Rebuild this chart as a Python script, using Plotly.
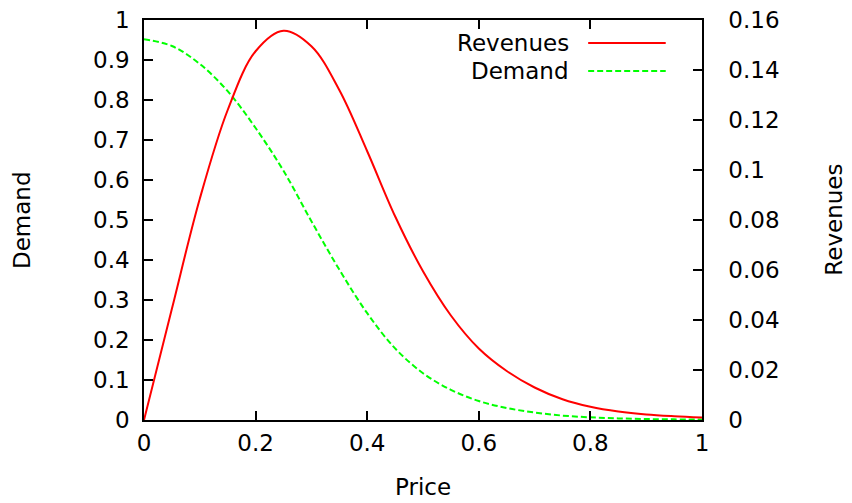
import plotly.graph_objects as go

# Demand curve (left axis)
price_demand = [0.00, 0.05, 0.10, 0.15, 0.20, 0.25, 0.30, 0.35, 0.40, 0.45,
                0.50, 0.55, 0.60, 0.65, 0.70, 0.75, 0.80, 0.85, 0.90, 0.95, 1.00]
demand_vals = [0.952, 0.935, 0.890, 0.822, 0.730, 0.623, 0.497, 0.376, 0.267, 0.179,
               0.117, 0.0755, 0.0475, 0.030, 0.0186, 0.011, 0.0066, 0.004, 0.0024, 0.0016, 0.0010]

# Revenues curve (right axis)
price_revenue = [0.00, 0.05, 0.10, 0.15, 0.20, 0.25, 0.30, 0.35, 0.40, 0.45,
                 0.50, 0.55, 0.60, 0.65, 0.70, 0.75, 0.80, 0.85, 0.90, 0.95, 1.00]
revenue_vals = [0.0, 0.0445, 0.0885, 0.124, 0.1475, 0.1557, 0.1495, 0.132, 0.1075, 0.0815,
                0.0595, 0.0418, 0.0286, 0.0196, 0.013, 0.0083, 0.0053, 0.0034, 0.0022, 0.0015, 0.0010]

x_ticks = [0, 0.2, 0.4, 0.6, 0.8, 1]
x_ticklabels = ["0", "0.2", "0.4", "0.6", "0.8", "1"]
y_ticks = [0, 0.1, 0.2, 0.3, 0.4, 0.5, 0.6, 0.7, 0.8, 0.9, 1]
y_ticklabels = ["0", "0.1", "0.2", "0.3", "0.4", "0.5", "0.6", "0.7", "0.8", "0.9", "1"]
y2_ticks = [0, 0.02, 0.04, 0.06, 0.08, 0.1, 0.12, 0.14, 0.16]
y2_ticklabels = ["0", "0.02", "0.04", "0.06", "0.08", "0.1", "0.12", "0.14", "0.16"]

FONT = "DejaVu Sans"
FS = 23
RED = "#ff0000"
GREEN = "#00ff00"

fig = go.Figure()
fig.add_trace(go.Scatter(
    x=price_revenue, y=revenue_vals, name="Revenues", yaxis="y2", mode="lines",
    line=dict(color=RED, width=2, shape="spline", smoothing=1.0),
    showlegend=False))
fig.add_trace(go.Scatter(
    x=price_demand, y=demand_vals, name="Demand", yaxis="y", mode="lines",
    line=dict(color=GREEN, width=2, dash="6px,3px", shape="spline", smoothing=1.0),
    showlegend=False))

axis_common = dict(showline=True, linecolor="black", linewidth=1.5, ticks="inside",
                   ticklen=9, tickwidth=1.5, tickcolor="black", showgrid=False,
                   zeroline=False, automargin=False, ticklabeloverflow="allow",
                   tickfont=dict(family=FONT, size=FS, color="black"))

# The page body adds an 8px offset, so the figure is 8px smaller than the window.
fig.update_layout(
    width=844, height=495,
    margin=dict(l=136, r=150, t=12, b=83),
    paper_bgcolor="white", plot_bgcolor="white",
    font=dict(family=FONT, size=FS, color="black"),
    xaxis=dict(range=[0, 1], tickvals=x_ticks, ticktext=x_ticklabels, mirror="ticks",
               ticklabelstandoff=2, **axis_common),
    yaxis=dict(range=[0, 1], tickvals=y_ticks, ticktext=y_ticklabels, mirror=True,
               ticklabelstandoff=8, **axis_common),
    yaxis2=dict(range=[0, 0.16], tickvals=y2_ticks, ticktext=y2_ticklabels,
                overlaying="y", side="right", ticklabelstandoff=20, **axis_common),
    showlegend=False,
)

# Axis titles
fig.add_annotation(text="Demand", xref="paper", yref="paper", x=-0.2186, y=0.5,
                   xanchor="center", yanchor="middle",
                   showarrow=False, textangle=-90, font=dict(family=FONT, size=FS))
fig.add_annotation(text="Revenues", xref="paper", yref="paper", x=1.236, y=0.5,
                   xanchor="center", yanchor="middle",
                   showarrow=False, textangle=-90, font=dict(family=FONT, size=FS))
fig.add_annotation(text="Price", xref="paper", yref="paper", x=0.5, y=-0.168,
                   xanchor="center", yanchor="middle",
                   showarrow=False, font=dict(family=FONT, size=FS))

# Key (gnuplot style: text then sample line)
for label, color, dash, ypos in [("Revenues", RED, "solid", 0.9425),
                                  ("Demand", GREEN, "6px,3px", 0.8725)]:
    fig.add_annotation(text=label, xref="paper", yref="paper", x=0.765, y=ypos,
                       xanchor="right", yanchor="middle", showarrow=False,
                       font=dict(family=FONT, size=FS))
    fig.add_shape(type="line", xref="paper", yref="paper", x0=0.796, x1=0.935,
                  y0=ypos, y1=ypos, line=dict(color=color, width=2, dash=dash))

fig.write_html("out.html")
